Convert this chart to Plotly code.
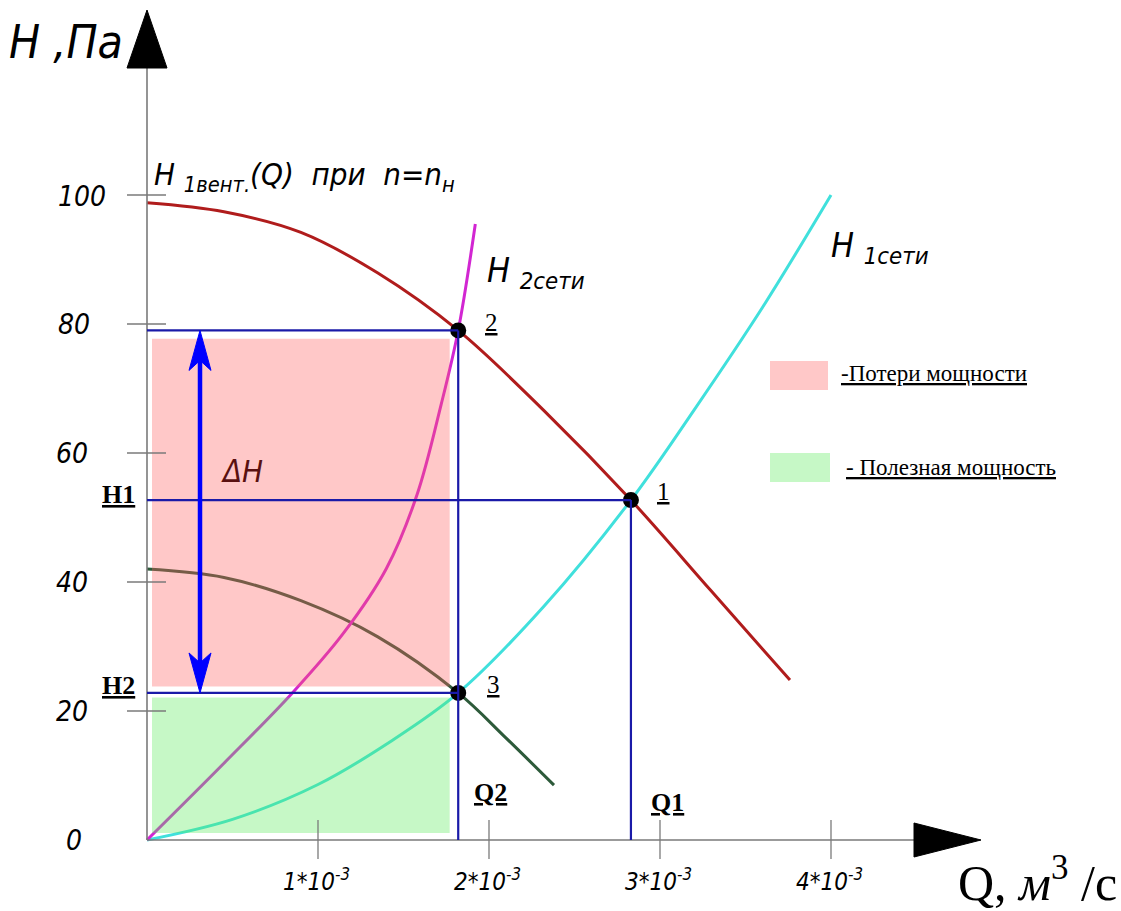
import plotly.graph_objects as go

# ---- data: Q in units of 1e-3 m^3/s, H in Pa ----
fan_q = [0, 0.45, 0.90, 1.35, 1.82, 2.32, 2.83, 3.30, 3.76]
fan_h = [98.8, 97.4, 94.2, 87.9, 79.0, 66.6, 52.7, 38.6, 24.8]

fan_low_q = [0, 0.45, 0.90, 1.35, 1.82, 2.10, 2.38]
fan_low_h = [42.0, 40.7, 37.1, 31.5, 22.8, 15.8, 8.5]

net1_q = [0, 0.50, 1.00, 1.42, 1.82, 2.32, 2.83, 3.20, 3.60, 4.00]
net1_h = [0, 3.2, 8.6, 15.2, 22.8, 36.2, 52.7, 66.7, 82.6, 100.0]

net2_q = [0, 0.45, 0.85, 1.15, 1.40, 1.58, 1.72, 1.82, 1.92]
net2_h = [0, 11.9, 22.8, 32.1, 42.1, 53.6, 67.5, 79.0, 95.5]

op_q = [2.83, 1.82, 1.82]
op_h = [52.7, 79.0, 22.8]
op_names = ["1", "2", "3"]

y_ticks = [0, 20, 40, 60, 80, 100]
x_ticks = [1, 2, 3, 4]
x_tick_labels = ["1*10<sup>-3</sup>", "2*10<sup>-3</sup>", "3*10<sup>-3</sup>", "4*10<sup>-3</sup>"]

# ---- page frame: origin pixel and pixels per unit ----
W, H = 1121, 911
OX, OY = 147, 840
SX, SY = 171.0, 6.45


def px(p):
    return (p - OX) / SX


def py(p):
    return (OY - p) / SY


GOST = "DejaVu Sans Condensed, Liberation Sans Narrow, Liberation Sans, Arial"
SERIF = "Liberation Serif, Times New Roman, serif"
GREY = "#7a7a7a"
BLUE = "#1a1aa8"

fig = go.Figure()
shapes = []
ann = []

# filled power regions (semi-transparent, over the curves)
q1, q2 = op_q[0], op_q[1]
h1, h2top, h2 = op_h[0], op_h[1], op_h[2]
shapes.append(dict(type="rect", xref="x", yref="y", layer="above",
                   x0=px(152), x1=q2 - 0.05, y0=h2 + 1.0, y1=h2top - 1.3,
                   fillcolor="rgba(255,98,98,0.35)", line=dict(width=0)))
shapes.append(dict(type="rect", xref="x", yref="y", layer="above",
                   x0=px(152), x1=q2 - 0.05, y0=1.1, y1=h2 - 0.7,
                   fillcolor="rgba(92,235,92,0.35)", line=dict(width=0)))

# curves
spline = dict(shape="spline", smoothing=1.0)
fig.add_trace(go.Scatter(x=fan_q, y=fan_h, mode="lines", line=dict(color="#b01c1c", width=3, **spline),
                         hoverinfo="skip"))
fig.add_trace(go.Scatter(x=fan_low_q, y=fan_low_h, mode="lines", line=dict(color="#2d5a3a", width=3, **spline),
                         hoverinfo="skip"))
fig.add_trace(go.Scatter(x=net1_q, y=net1_h, mode="lines", line=dict(color="#40e0dc", width=3, **spline),
                         hoverinfo="skip"))
fig.add_trace(go.Scatter(x=net2_q, y=net2_h, mode="lines", line=dict(color="#d226d2", width=3, **spline),
                         hoverinfo="skip"))

# axes
shapes.append(dict(type="line", x0=0, x1=px(916), y0=0, y1=0, line=dict(color=GREY, width=1.6), layer="above"))
shapes.append(dict(type="line", x0=0, x1=0, y0=0, y1=py(66), line=dict(color=GREY, width=1.6), layer="above"))
shapes.append(dict(type="path", path=f"M {px(127)} {py(68)} L {px(147)} {py(10)} L {px(167)} {py(68)} Z",
                   fillcolor="black", line=dict(color="black", width=1)))
shapes.append(dict(type="path", path=f"M {px(914)} {py(823)} L {px(981)} {py(840)} L {px(914)} {py(857)} Z",
                   fillcolor="black", line=dict(color="black", width=1)))

for v in y_ticks[1:]:
    shapes.append(dict(type="line", x0=px(127), x1=px(166), y0=v, y1=v, line=dict(color=GREY, width=1.3)))
for v in x_ticks:
    shapes.append(dict(type="line", x0=v, x1=v, y0=py(820), y1=py(859), line=dict(color=GREY, width=1.3)))

# projection lines of the operating points
for q, h in [(q2, h2top), (q1, h1), (q2, h2)]:
    shapes.append(dict(type="line", x0=0, x1=q, y0=h, y1=h, line=dict(color=BLUE, width=2.2), layer="above"))
for q, h in [(q2, h2top), (q1, h1)]:
    shapes.append(dict(type="line", x0=q, x1=q, y0=0, y1=h, line=dict(color=BLUE, width=2.2), layer="above"))

# ΔH double arrow
ax = px(200)
hw, hl = 11 / SX, 40 / SY
shapes.append(dict(type="line", x0=ax, x1=ax, y0=h2 + hl * 0.7, y1=h2top - hl * 0.7,
                   line=dict(color="#0000ff", width=4.5), layer="above"))
shapes.append(dict(type="path", layer="above",
                   path=f"M {ax} {h2top} L {ax + hw} {h2top - hl} L {ax} {h2top - hl * 0.75} "
                        f"L {ax - hw} {h2top - hl} Z",
                   fillcolor="#0000ff", line=dict(color="#0000ff", width=1)))
shapes.append(dict(type="path", layer="above",
                   path=f"M {ax} {h2} L {ax + hw} {h2 + hl} L {ax} {h2 + hl * 0.75} "
                        f"L {ax - hw} {h2 + hl} Z",
                   fillcolor="#0000ff", line=dict(color="#0000ff", width=1)))

# legend swatches
shapes.append(dict(type="rect", x0=px(770), x1=px(828), y0=py(390), y1=py(361),
                   fillcolor="#ffc8c8", line=dict(width=0)))
shapes.append(dict(type="rect", x0=px(770), x1=px(830), y0=py(482), y1=py(453),
                   fillcolor="#c6f8c6", line=dict(width=0)))

# operating points
fig.add_trace(go.Scatter(x=op_q, y=op_h, mode="markers", marker=dict(color="black", size=16),
                         hoverinfo="skip"))


def label(text, x, y, size, family=GOST, color="black", xanchor="center"):
    ann.append(dict(text=text, x=x, y=y, xref="x", yref="y", showarrow=False,
                    xanchor=xanchor, yanchor="middle", font=dict(family=family, size=size, color=color)))


# tick labels
label("<i>100</i>", px(82), py(196), 28)
for v, xp in zip(y_ticks[1:-1], [72, 72, 72, 74]):
    label(f"<i>{v}</i>", px(xp), v, 28)
label("<i>0</i>", px(74), py(840), 28)
for v, t in zip(x_ticks, x_tick_labels):
    label(f"<i>{t}</i>", v - 0.01, py(880), 24)

# axis titles
label("<i>H ,Па</i>", px(66), py(42), 46)
label("Q, <i>м</i><sup>3</sup> /с", px(1037), py(879), 50, family=SERIF)

# curve captions
label("<i>H <sub>1вент.</sub>(Q)  при  n=n<sub>н</sub></i>", px(152), py(176), 31, xanchor="left")
label("<i>H <sub>2сети</sub></i>", px(485), py(272), 34, xanchor="left")
label("<i>H <sub>1сети</sub></i>", px(829), py(247), 34, xanchor="left")
label("<i>ΔH</i>", px(219), py(471), 31, color="#5a1010", xanchor="left")

# level / flow markers
label("<u><b>H1</b></u>", px(118), h1 + 0.9, 26, family=SERIF)
label("<u><b>H2</b></u>", px(118), h2 + 1.2, 26, family=SERIF)
label("<u><b>Q2</b></u>", px(490), py(792), 26, family=SERIF)
label("<u><b>Q1</b></u>", px(667), py(802), 26, family=SERIF)

for q, h, n in zip(op_q, op_h, op_names):
    dx = 33 if n != "3" else 35
    label(f"<u>{n}</u>", q + dx / SX, h + 1.3, 25, family=SERIF)

# legend texts
label("<u>-Потери мощности</u>", px(839), py(373), 23, family=SERIF, xanchor="left")
label("<u>- Полезная мощность</u>", px(844), py(467), 23, family=SERIF, xanchor="left")

fig.update_layout(
    width=W, height=H,
    margin=dict(l=0, r=0, t=0, b=0),
    paper_bgcolor="white", plot_bgcolor="white",
    showlegend=False,
    shapes=shapes, annotations=ann,
    xaxis=dict(range=[px(0), px(W)], visible=False, fixedrange=True),
    yaxis=dict(range=[py(H), py(0)], visible=False, fixedrange=True),
)

fig.write_html("out.html", config={"displayModeBar": False})
